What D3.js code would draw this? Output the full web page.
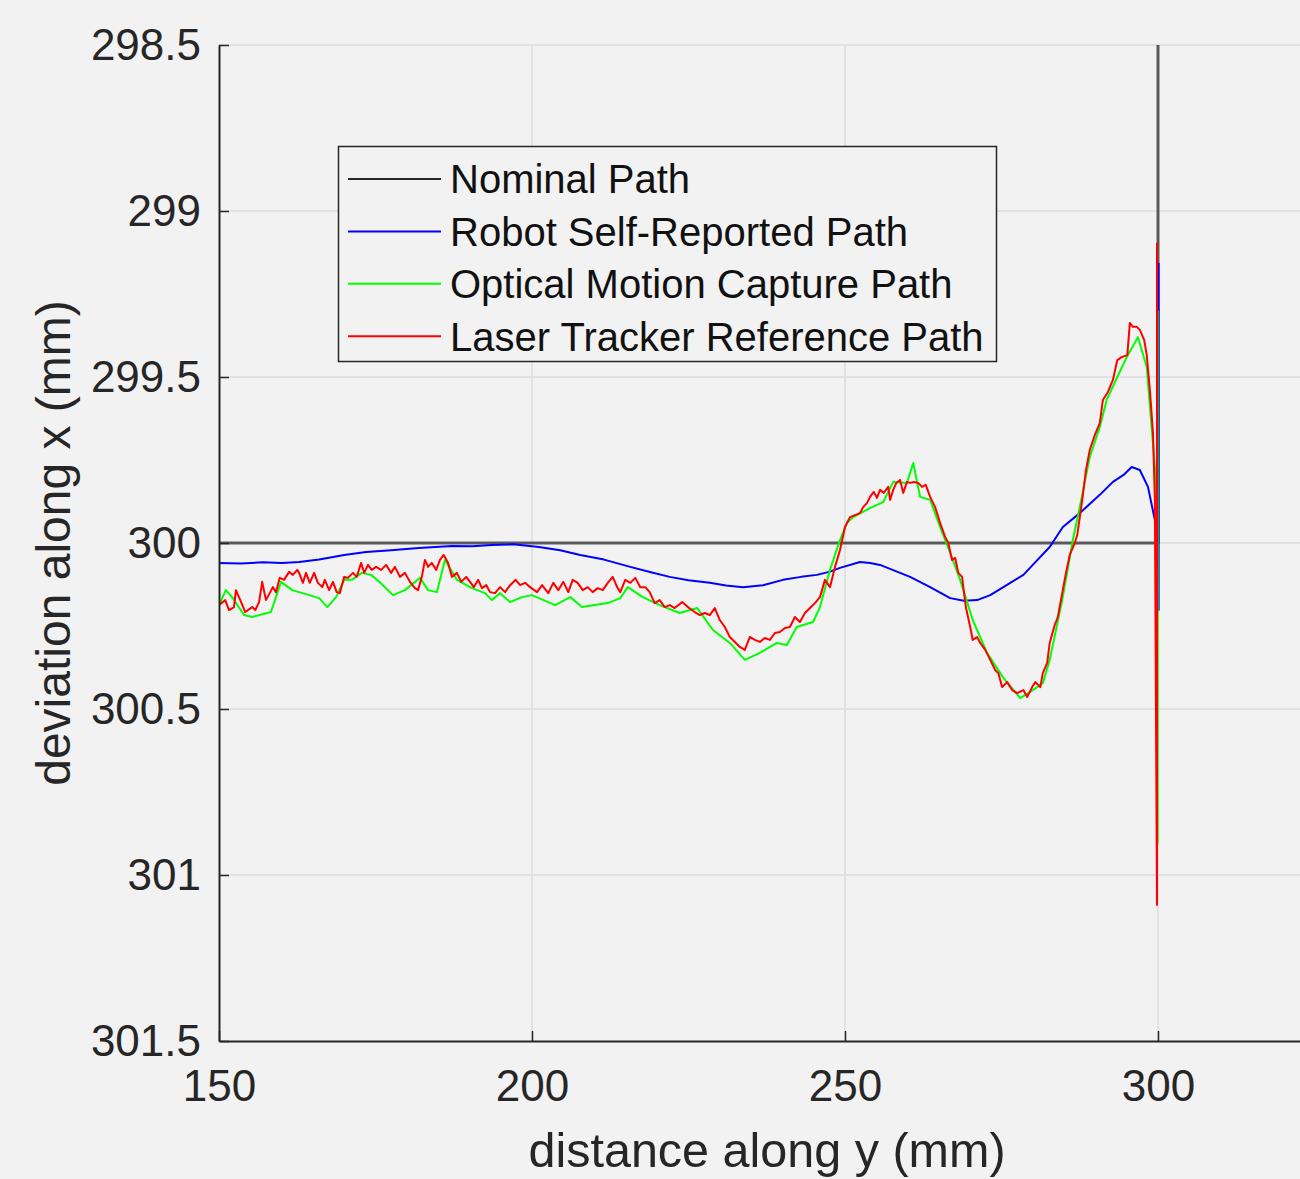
<!DOCTYPE html>
<html>
<head>
<meta charset="utf-8">
<script src="https://cdn.jsdelivr.net/npm/d3@7"></script>
<style>
  html, body { margin: 0; padding: 0; background: #f2f2f2; }
  svg { display: block; font-family: "Liberation Sans", Arial, Helvetica, sans-serif; }
</style>
</head>
<body>
<script>
const width = 1300;
const height = 1179;

// axis setup
const xTicks = [150, 200, 250, 300];
const yTicks = [298.5, 299, 299.5, 300, 300.5, 301, 301.5];
const yTickLabels = ['298.5', '299', '299.5', '300', '300.5', '301', '301.5'];
const seriesNames = ['Nominal Path', 'Robot Self-Reported Path', 'Optical Motion Capture Path', 'Laser Tracker Reference Path'];
const seriesColors = ['#262626', '#0000ff', '#00ff00', '#ff0000'];

// [distance along y, deviation along x]
const nominalPath = [[150, 300], [300, 300], [300, 298.0]];

const robotPath = [
    [150.0, 300.060], [153.5, 300.062], [157.0, 300.058], [160.0, 300.060], [162.8, 300.057],
    [166.0, 300.050], [170.0, 300.036], [173.5, 300.027], [177.5, 300.022], [181.9, 300.015],
    [187.2, 300.009], [190.5, 300.010], [193.6, 300.006], [197.0, 300.004], [201.1, 300.012],
    [204.5, 300.022], [207.7, 300.036], [211.5, 300.050], [215.7, 300.072], [219.0, 300.088],
    [222.0, 300.102], [225.0, 300.112], [228.4, 300.120], [231.0, 300.128], [233.7, 300.133],
    [236.9, 300.127], [240.1, 300.111], [243.0, 300.102], [245.5, 300.096], [247.5, 300.087],
    [249.2, 300.075], [252.4, 300.057], [254.0, 300.060], [255.6, 300.066], [258.0, 300.084],
    [260.4, 300.102], [263.6, 300.133], [266.8, 300.166], [269.0, 300.174], [271.1, 300.172],
    [273.2, 300.157], [276.4, 300.120], [278.5, 300.096], [280.0, 300.066], [282.7, 300.012],
    [284.8, 299.952], [287.5, 299.910], [290.7, 299.855], [292.8, 299.816], [294.5, 299.795],
    [295.8, 299.771], [297.1, 299.780], [298.4, 299.831], [299.5, 299.931], [300.0, 300.000],
    [300.1, 300.202], [300.1, 299.157]
];

const opticalPath = [
    [150.0, 300.187], [151.1, 300.142], [152.1, 300.163], [154.0, 300.217], [155.3, 300.223],
    [158.3, 300.208], [159.9, 300.117], [161.7, 300.142], [164.4, 300.157], [166.0, 300.166],
    [167.3, 300.193], [168.7, 300.163], [170.0, 300.111], [171.2, 300.111], [172.8, 300.090],
    [174.3, 300.096], [175.6, 300.117], [177.8, 300.157], [179.7, 300.142], [182.1, 300.105],
    [183.4, 300.142], [184.8, 300.148], [186.1, 300.051], [188.0, 300.111], [190.4, 300.136],
    [192.5, 300.151], [193.6, 300.172], [194.9, 300.151], [196.5, 300.178], [198.4, 300.163],
    [200.0, 300.157], [203.7, 300.187], [206.1, 300.163], [208.0, 300.193], [212.1, 300.181],
    [214.1, 300.166], [215.3, 300.133], [217.7, 300.163], [220.4, 300.187], [223.6, 300.211],
    [226.4, 300.196], [228.9, 300.262], [231.6, 300.301], [234.0, 300.352], [236.4, 300.331],
    [239.1, 300.301], [240.7, 300.307], [242.3, 300.253], [244.9, 300.238], [246.0, 300.193],
    [247.6, 300.081], [249.2, 299.991], [250.3, 299.940], [251.3, 299.922], [254.0, 299.895],
    [256.1, 299.877], [257.7, 299.816], [259.9, 299.819], [260.9, 299.759], [262.0, 299.861],
    [263.6, 299.870], [265.2, 299.952], [266.8, 300.030], [268.4, 300.111], [270.4, 300.232],
    [272.7, 300.331], [275.2, 300.404], [278.0, 300.467], [280.0, 300.443], [281.6, 300.422],
    [282.7, 300.352], [284.7, 300.172], [286.4, 299.991], [287.5, 299.892], [289.1, 299.741],
    [290.7, 299.651], [291.8, 299.569], [293.5, 299.500], [295.0, 299.440], [296.8, 299.380],
    [298.2, 299.470], [299.5, 299.771], [299.95, 300.000], [299.95, 300.904], [299.95, 299.300]
];

const laserPath = [
    [150.0, 300.187], [151.0, 300.172], [151.6, 300.202], [152.4, 300.193], [152.7, 300.142],
    [153.4, 300.172], [154.2, 300.208], [155.3, 300.193], [155.8, 300.202], [156.4, 300.178],
    [156.9, 300.117], [157.5, 300.172], [158.1, 300.151], [158.6, 300.133], [159.1, 300.148],
    [159.7, 300.105], [160.4, 300.111], [161.2, 300.087], [161.8, 300.096], [162.5, 300.081],
    [162.8, 300.090], [163.4, 300.120], [163.9, 300.090], [164.5, 300.120], [165.2, 300.090],
    [165.8, 300.120], [166.5, 300.133], [166.9, 300.111], [167.6, 300.142], [168.2, 300.117],
    [168.8, 300.148], [169.3, 300.151], [170.0, 300.102], [170.6, 300.105], [171.4, 300.090],
    [172.0, 300.102], [172.7, 300.060], [173.2, 300.090], [173.8, 300.066], [174.4, 300.081],
    [175.1, 300.072], [175.9, 300.081], [176.7, 300.066], [177.5, 300.090], [178.1, 300.072],
    [178.9, 300.102], [179.7, 300.090], [180.5, 300.117], [181.3, 300.136], [181.8, 300.142],
    [182.4, 300.102], [182.9, 300.051], [183.4, 300.072], [184.0, 300.060], [184.7, 300.081],
    [185.3, 300.051], [185.9, 300.036], [186.6, 300.060], [187.2, 300.102], [188.0, 300.090],
    [188.7, 300.117], [189.5, 300.102], [190.1, 300.117], [190.7, 300.133], [191.4, 300.111],
    [192.0, 300.136], [192.7, 300.127], [193.3, 300.148], [194.1, 300.151], [194.9, 300.133],
    [195.7, 300.148], [196.5, 300.127], [197.4, 300.111], [198.1, 300.127], [198.9, 300.120],
    [199.7, 300.133], [200.8, 300.148], [201.6, 300.127], [202.6, 300.151], [203.4, 300.120],
    [204.2, 300.142], [205.0, 300.117], [205.8, 300.148], [206.5, 300.111], [207.3, 300.120],
    [208.1, 300.142], [208.9, 300.133], [209.7, 300.148], [210.5, 300.136], [211.3, 300.142],
    [212.1, 300.120], [212.9, 300.102], [213.6, 300.133], [214.1, 300.148], [214.9, 300.111],
    [215.7, 300.120], [216.5, 300.105], [217.3, 300.133], [218.1, 300.133], [218.8, 300.148],
    [219.6, 300.181], [220.4, 300.172], [221.2, 300.193], [222.0, 300.187], [222.8, 300.196],
    [224.0, 300.178], [224.9, 300.193], [226.0, 300.208], [226.8, 300.217], [227.6, 300.211],
    [228.4, 300.217], [229.2, 300.196], [230.0, 300.232], [230.8, 300.253], [231.6, 300.283],
    [232.4, 300.298], [233.2, 300.313], [234.0, 300.322], [234.8, 300.283], [235.6, 300.292],
    [236.4, 300.298], [237.2, 300.286], [238.0, 300.292], [238.8, 300.271], [239.6, 300.268],
    [240.4, 300.256], [241.2, 300.253], [242.0, 300.223], [242.8, 300.238], [243.6, 300.211],
    [244.4, 300.196], [245.2, 300.181], [246.0, 300.163], [246.8, 300.111], [247.6, 300.133],
    [248.4, 300.072], [249.2, 300.021], [250.0, 299.952], [250.8, 299.922], [251.6, 299.916],
    [252.4, 299.910], [252.9, 299.892], [253.5, 299.880], [254.0, 299.861], [254.6, 299.846],
    [255.1, 299.864], [255.6, 299.840], [256.2, 299.849], [256.9, 299.831], [257.2, 299.870],
    [257.7, 299.840], [258.2, 299.819], [258.8, 299.810], [259.3, 299.849], [259.9, 299.816],
    [260.4, 299.819], [261.0, 299.816], [261.7, 299.819], [262.3, 299.831], [262.9, 299.825],
    [263.6, 299.861], [264.4, 299.892], [265.2, 299.940], [266.0, 299.982], [266.5, 300.000],
    [267.1, 300.051], [267.6, 300.045], [268.1, 300.090], [268.7, 300.102], [269.3, 300.193],
    [270.0, 300.253], [270.4, 300.292], [271.1, 300.283], [271.6, 300.301], [272.4, 300.322],
    [273.2, 300.352], [274.0, 300.383], [274.5, 300.392], [275.1, 300.434], [275.9, 300.419],
    [276.7, 300.443], [277.5, 300.452], [278.5, 300.443], [279.1, 300.464], [279.9, 300.434],
    [280.4, 300.419], [281.2, 300.434], [281.6, 300.392], [282.3, 300.361], [282.7, 300.301],
    [283.5, 300.247], [284.0, 300.223], [284.7, 300.151], [285.3, 300.090], [285.9, 300.036],
    [286.7, 300.000], [287.1, 299.976], [287.9, 299.870], [288.5, 299.780], [289.1, 299.720],
    [289.9, 299.675], [290.7, 299.639], [291.2, 299.569], [292.0, 299.545], [292.8, 299.509],
    [293.5, 299.449], [294.2, 299.440], [295.1, 299.434], [295.5, 299.337], [296.0, 299.349],
    [296.6, 299.349], [297.1, 299.358], [297.8, 299.389], [298.2, 299.434], [298.7, 299.539],
    [299.2, 299.669], [299.5, 299.870], [299.84, 301.090], [299.84, 299.096]
];

const allPaths = [nominalPath, robotPath, opticalPath, laserPath];

const margin = {left: 219, top: 45, bottom: 1041};

const x = d3.scaleLinear()
    .domain([150, 325])
    .range([margin.left, margin.left + 175 * 6.26]);

const y = d3.scaleLinear()
    .domain([298.5, 301.5])
    .range([margin.top, margin.bottom]);

const svg = d3.select('body').append('svg')
    .attr('width', width)
    .attr('height', height);

svg.append('rect')
    .attr('width', width)
    .attr('height', height)
    .attr('fill', '#f2f2f2');

svg.append('defs').append('clipPath')
    .attr('id', 'plot-clip')
    .append('rect')
    .attr('x', x.range()[0])
    .attr('y', y.range()[0])
    .attr('width', x.range()[1] - x.range()[0])
    .attr('height', y.range()[1] - y.range()[0]);

// grid
const grid = svg.append('g')
    .attr('stroke', '#dcdcdc')
    .attr('stroke-width', 1.5);

grid.selectAll('line.vgrid')
    .data(xTicks.slice(1))
    .enter().append('line')
    .attr('x1', d => x(d))
    .attr('x2', d => x(d))
    .attr('y1', y(298.5))
    .attr('y2', y(301.5));

grid.selectAll('line.hgrid')
    .data(yTicks.slice(0, -1))
    .enter().append('line')
    .attr('x1', x(150))
    .attr('x2', x(325))
    .attr('y1', d => y(d))
    .attr('y2', d => y(d));

// lines
const line = d3.line()
    .x(d => x(d[0]))
    .y(d => y(d[1]));

const widths = [3, 2, 2, 2];
const lineColors = ['#5a5a5a', '#0000ff', '#00ff00', '#ff0000'];

svg.append('g')
    .attr('clip-path', 'url(#plot-clip)')
    .selectAll('path')
    .data(allPaths)
    .enter().append('path')
    .attr('d', line)
    .attr('fill', 'none')
    .attr('stroke', (d, i) => lineColors[i])
    .attr('stroke-width', (d, i) => widths[i])
    .attr('stroke-linejoin', 'round');

// axes
const xAxis = d3.axisBottom(x)
    .tickValues(xTicks)
    .tickSizeInner(-10)
    .tickSizeOuter(0)
    .tickPadding(29)
    .tickFormat(d3.format('d'));

const yAxis = d3.axisLeft(y)
    .tickValues(yTicks)
    .tickSizeInner(-10)
    .tickSizeOuter(0)
    .tickPadding(18)
    .tickFormat((d, i) => yTickLabels[i]);

const gx = svg.append('g')
    .attr('transform', `translate(0,${margin.bottom})`)
    .call(xAxis);

const gy = svg.append('g')
    .attr('transform', `translate(${margin.left},0)`)
    .call(yAxis);

[gx, gy].forEach(g => {
    g.select('.domain').attr('stroke', '#262626').attr('stroke-width', 2);
    g.selectAll('.tick line').attr('stroke', '#262626').attr('stroke-width', 1.5);
    g.selectAll('.tick text')
        .attr('fill', '#262626')
        .style('font-size', '44px')
        .style('font-family', '"Liberation Sans", Arial, sans-serif');
});

// axis labels
svg.append('text')
    .attr('x', 767)
    .attr('y', 1167)
    .attr('text-anchor', 'middle')
    .attr('fill', '#262626')
    .style('font-size', '48.5px')
    .text('distance along y (mm)');

svg.append('text')
    .attr('transform', 'translate(70,543) rotate(-90)')
    .attr('text-anchor', 'middle')
    .attr('fill', '#262626')
    .style('font-size', '48px')
    .text('deviation along x (mm)');

// legend
const legend = svg.append('g');

legend.append('rect')
    .attr('x', 338.5)
    .attr('y', 146.5)
    .attr('width', 658)
    .attr('height', 215)
    .attr('fill', '#f2f2f2')
    .attr('stroke', '#262626')
    .attr('stroke-width', 1.5);

const items = legend.selectAll('g.item')
    .data(seriesNames)
    .enter().append('g')
    .attr('transform', (d, i) => `translate(0,${179 + i * 52.4})`);

items.append('line')
    .attr('x1', 348)
    .attr('x2', 441)
    .attr('stroke', (d, i) => seriesColors[i])
    .attr('stroke-width', 2);

items.append('text')
    .attr('x', 450)
    .attr('dy', '0.36em')
    .attr('fill', '#111')
    .style('font-size', '40px')
    .text(d => d);
</script>
</body>
</html>
